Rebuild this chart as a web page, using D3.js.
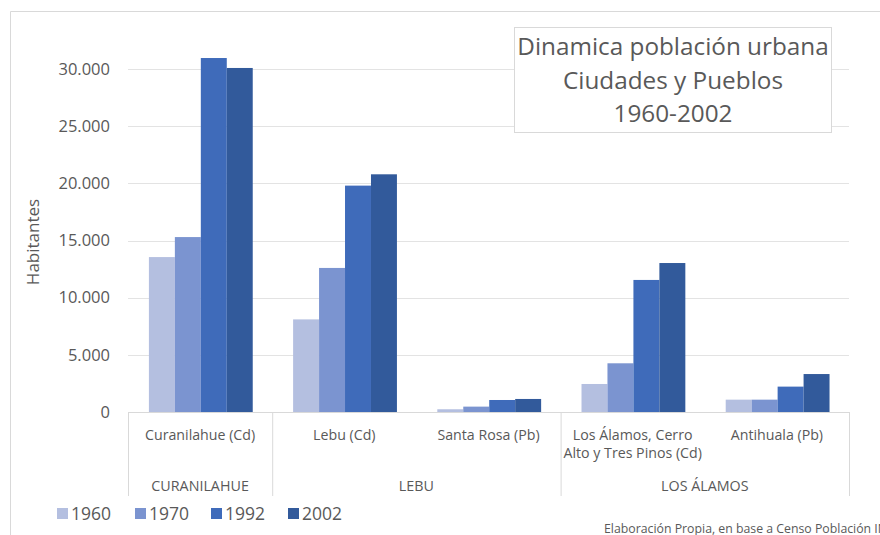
<!DOCTYPE html>
<html>
<head>
<meta charset="utf-8">
<script src="https://cdn.jsdelivr.net/npm/d3@7"></script>
<style>
  body { margin: 0; background: #fff; overflow: hidden; }
  text { font-family: "Open Sans", sans-serif; fill: #595959; }
</style>
</head>
<body>
<div class="container"></div>
<script>
// data
const places = ["Curanilahue (Cd)", "Lebu (Cd)", "Santa Rosa (Pb)", "Los Álamos, Cerro|Alto y Tres Pinos (Cd)", "Antihuala (Pb)"];
const groups = [
  {name: "CURANILAHUE", from: 0, to: 0},
  {name: "LEBU", from: 1, to: 2},
  {name: "LOS ÁLAMOS", from: 3, to: 4}
];
const years = ["1960", "1970", "1992", "2002"];
const colors = ["#b4bfe0", "#7b94d0", "#3f6bba", "#325a9b"];
const values = {
  "1960": [13550, 8100, 240, 2450, 1080],
  "1970": [15300, 12600, 470, 4260, 1080],
  "1992": [30960, 19800, 1050, 11550, 2220],
  "2002": [30090, 20790, 1140, 13030, 3320]
};
const yTicks = [0, 5000, 10000, 15000, 20000, 25000, 30000];
const titleLines = ["Dinamica población urbana", "Ciudades y Pueblos", "1960-2002"];

// build the SVG
svgwidth = 880;
svgheight = 535;
plot = {left: 128, right: 849, top: 69, bottom: 412};

svg = d3.select('.container')
    .append("svg")
    .attr("width", svgwidth)
    .attr("height", svgheight);

// chart border
svg.append("path")
    .attr("d", "M10.5,535 V11.5 H880")
    .attr("fill", "none")
    .attr("stroke", "#d9d9d9");

// scales
posX = d3.scaleBand()
    .domain(d3.range(places.length))
    .range([plot.left, plot.right]);
posX1 = d3.scaleBand()
    .domain(years)
    .range([posX.bandwidth() * 0.145, posX.bandwidth() * 0.865]);
posY = d3.scaleLinear()
    .domain([0, 30000])
    .range([plot.bottom, plot.top]);

// gridlines + y labels
fmt = d3.formatLocale({decimal: ",", thousands: ".", grouping: [3]}).format(",");
svg.selectAll(".grid")
  .data(yTicks.filter(d => d > 0))
  .enter()
    .append("line")
    .attr("x1", plot.left).attr("x2", plot.right)
    .attr("y1", d => Math.round(posY(d)) + 0.5)
    .attr("y2", d => Math.round(posY(d)) + 0.5)
    .attr("stroke", "#e3e3e3");

svg.selectAll(".ylab")
  .data(yTicks)
  .enter()
    .append("text")
    .attr("x", 110)
    .attr("y", d => posY(d))
    .attr("dy", "0.35em")
    .attr("text-anchor", "end")
    .attr("font-size", "16.5px")
    .text(d => fmt(d));

svg.append("text")
    .attr("transform", "translate(39," + 242 + ") rotate(-90)")
    .attr("text-anchor", "middle")
    .attr("font-size", "17px")
    .text("Habitantes");

// bars
years.forEach(function(yr, i) {
  svg.selectAll(".bar" + yr)
    .data(values[yr])
    .enter()
      .append("rect")
      .attr("x", (d, j) => posX(j) + posX1(yr))
      .attr("y", d => posY(d))
      .attr("width", posX1.bandwidth())
      .attr("height", d => plot.bottom - posY(d))
      .attr("fill", colors[i]);
});

// category axis
svg.append("line")
    .attr("x1", plot.left).attr("x2", plot.right)
    .attr("y1", plot.bottom + 0.5).attr("y2", plot.bottom + 0.5)
    .attr("stroke", "#d9d9d9");

seps = [0].concat(groups.map(g => g.to + 1));
svg.selectAll(".sep")
  .data(seps)
  .enter()
    .append("line")
    .attr("x1", d => (d < places.length ? posX(d) : plot.right) + 0.5)
    .attr("x2", d => (d < places.length ? posX(d) : plot.right) + 0.5)
    .attr("y1", plot.bottom)
    .attr("y2", 496)
    .attr("stroke", "#d9d9d9");

places.forEach(function(p, j) {
  const t = svg.append("text")
      .attr("x", posX(j) + posX.bandwidth() / 2)
      .attr("y", 440)
      .attr("text-anchor", "middle")
      .attr("font-size", "14.2px");
  p.split("|").forEach(function(line, k) {
    t.append("tspan")
      .attr("x", posX(j) + posX.bandwidth() / 2)
      .attr("dy", k === 0 ? 0 : "1.25em")
      .text(line);
  });
});

svg.selectAll(".grp")
  .data(groups)
  .enter()
    .append("text")
    .attr("x", d => (posX(d.from) + posX(d.to) + posX.bandwidth()) / 2)
    .attr("y", 491)
    .attr("text-anchor", "middle")
    .attr("font-size", "14.3px")
    .text(d => d.name);

// legend
legendX = [57, 135, 211, 288];
leg = svg.selectAll(".leg")
  .data(years)
  .enter()
    .append("g")
    .attr("transform", (d, i) => "translate(" + legendX[i] + ",514)");
leg.append("rect")
    .attr("x", 0).attr("y", -6)
    .attr("width", 11).attr("height", 11)
    .attr("fill", (d, i) => colors[i]);
leg.append("text")
    .attr("x", 14)
    .attr("dy", "0.35em")
    .attr("font-size", "17.5px")
    .text(d => d);

// title box
svg.append("rect")
    .attr("x", 514.5).attr("y", 27.5)
    .attr("width", 317).attr("height", 105)
    .attr("fill", "#fff")
    .attr("stroke", "#d9d9d9");
svg.selectAll(".title")
  .data(titleLines)
  .enter()
    .append("text")
    .attr("x", 673)
    .attr("y", (d, i) => 55 + i * 33.5)
    .attr("text-anchor", "middle")
    .attr("font-size", "24.3px")
    .text(d => d);

// source note (cut at the right edge, as in the reference)
svg.append("text")
    .attr("x", 604)
    .attr("y", 533)
    .attr("font-size", "12.3px")
    .text("Elaboración Propia, en base a Censo Población INE");
</script>
</body>
</html>
